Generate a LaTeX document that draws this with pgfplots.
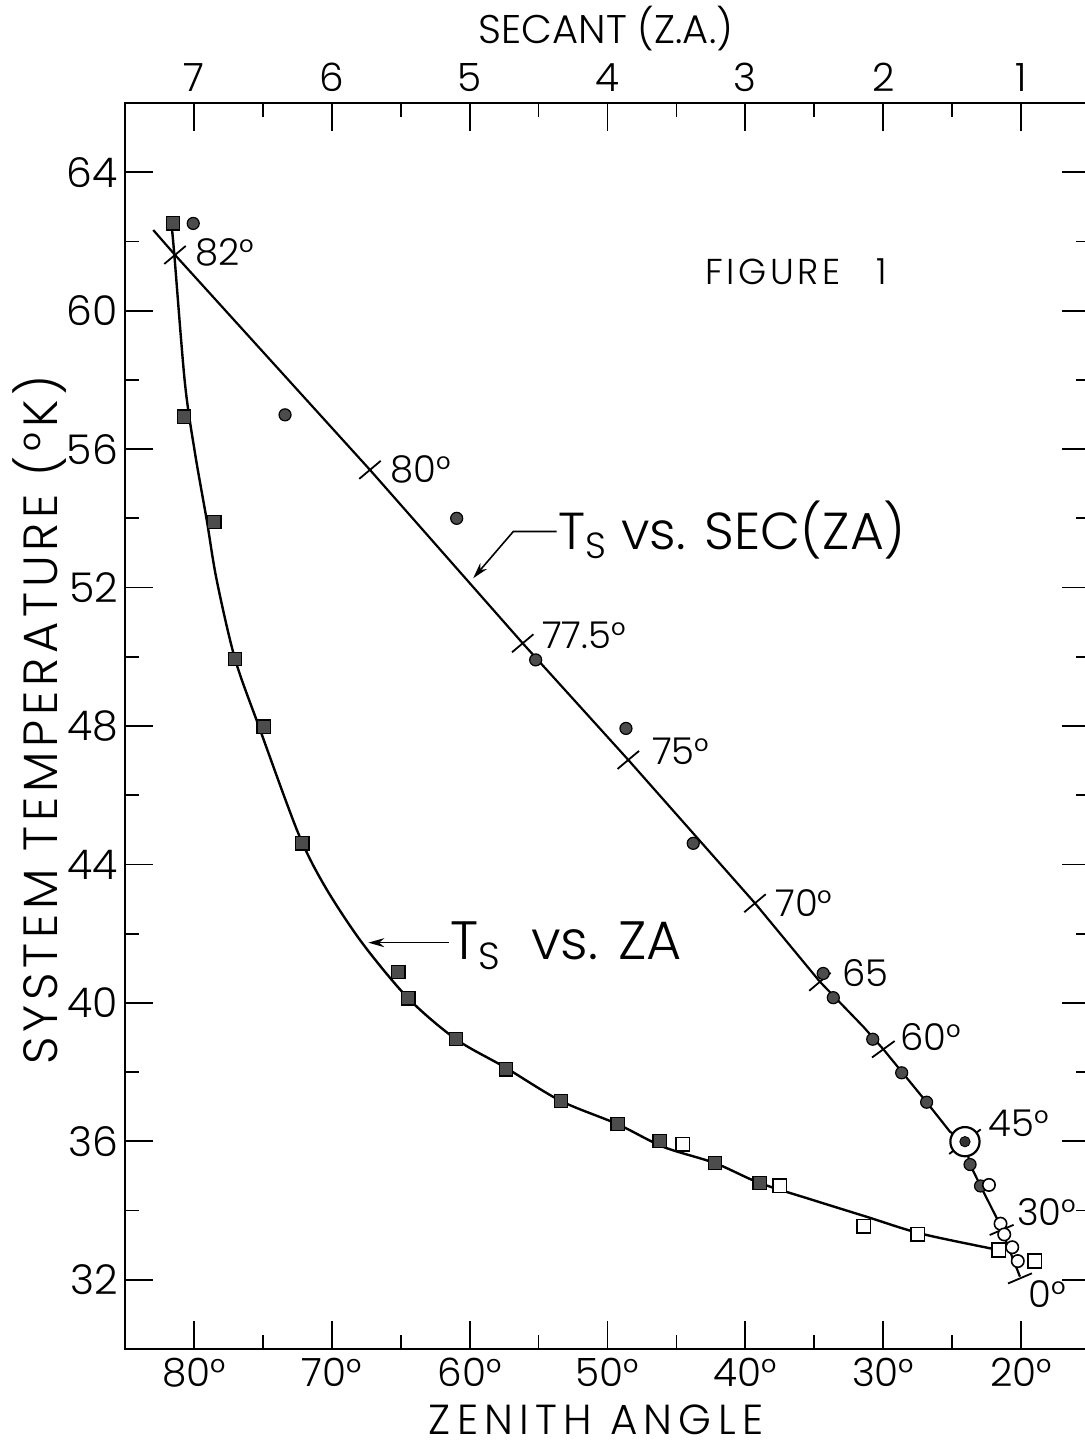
\documentclass[border=0pt]{standalone}
\usepackage{fontspec}
\setmainfont{Poppins}[UprightFont=* Light]
\newfontfamily\spaced{Poppins}[UprightFont=* Light, LetterSpace=10]
\newfontfamily\wspaced{Poppins}[UprightFont=* Light, LetterSpace=15]
\usepackage{pgfplots}
\usepackage{pgfplotstable}
\pgfplotsset{compat=1.18}
\usetikzlibrary{arrows.meta}

% Ts vs ZA: filled squares
\pgfplotstableread{
za ts
81.50 62.52
80.70 56.94
78.52 53.90
77.00 49.93
74.95 47.98
72.13 44.61
65.16 40.90
64.44 40.13
60.98 38.95
57.35 38.08
53.38 37.16
49.27 36.50
46.22 36.01
42.18 35.38
38.97 34.80
}\zafilled
% Ts vs ZA: open squares
\pgfplotstableread{
za ts
44.53 35.92
37.52 34.72
31.42 33.55
27.50 33.31
21.62 32.86
19.01 32.54
}\zaopen
% Ts vs ZA: drawn curve
\pgfplotstableread{
za ts
81.61 62.43
81.42 61.61
80.65 57.90
79.92 55.88
79.07 53.95
78.35 52.22
77.02 49.94
75.28 47.98
72.43 44.90
70.49 43.36
67.81 41.74
64.45 40.13
60.99 38.95
57.44 38.14
53.40 37.17
49.29 36.50
45.95 35.84
42.20 35.37
38.99 34.80
35.07 34.30
31.20 33.82
27.33 33.34
22.26 32.91
21.67 32.86
}\zacurve
% Ts vs SEC: filled circles
\pgfplotstableread{
sec ts
7.005 62.52
6.339 56.99
5.094 54.00
4.521 49.91
3.866 47.93
3.378 44.61
2.435 40.85
2.362 40.15
2.076 38.95
1.866 37.98
1.685 37.13
1.370 35.33
1.294 34.71
}\secfilled
% Ts vs SEC: open circles
\pgfplotstableread{
sec ts
1.233 34.74
1.149 33.62
1.122 33.31
1.064 32.94
1.024 32.54
}\secopen
% Ts vs SEC: drawn line
\pgfplotstableread{
sec ts
7.295 62.33
7.137 61.61
5.723 55.40
4.615 50.39
3.849 47.02
2.930 42.88
2.459 40.61
2.144 39.31
1.999 38.66
1.685 37.13
1.516 36.28
1.407 35.99
1.370 35.33
1.294 34.71
1.170 33.73
1.008 32.09
}\secline

\begin{document}
\begin{tikzpicture}
\useasboundingbox (-62.5pt,-49pt) rectangle (480pt,674.5pt);
% ---------- bottom / left axis: zenith angle ----------
\begin{axis}[
  at={(0pt,0pt)}, anchor=south west,
  scale only axis, width=482.5pt, height=623pt,
  xmin=15, xmax=85, x dir=reverse,
  ymin=30, ymax=66,
  xtick={20,30,40,50,60,70,80},
  xticklabels={20°,30°,40°,50°,60°,70°,80°},
  minor x tick num=1,
  xtick pos=left,
  ytick={32,36,40,44,48,52,56,60,64},
  yticklabels={32,36,40,44,48,52,56,60,64},
  minor y tick num=1,
  ytick pos=both, yticklabel pos=left,
  tick align=inside,
  major tick length=14pt, minor tick length=7pt,
  tick style={line width=0.9pt, black},
  axis line style={line width=1.1pt},
  ticklabel style={font=\fontsize{19.5}{19.5}\selectfont},
  yticklabel style={font=\fontsize{20.5}{20.5}\selectfont},
  xticklabel style={yshift=-1pt},
  clip=false,
]
\addplot[line width=1.2pt, smooth, tension=0.5] table[x=za,y=ts]{\zacurve};
\addplot[only marks, mark=square*, mark size=3.3pt,
  mark options={fill=black!70, draw=black, line width=0.6pt}] table[x=za,y=ts]{\zafilled};
\addplot[only marks, mark=square*, mark size=3.4pt,
  mark options={fill=white, draw=black, line width=0.8pt}] table[x=za,y=ts]{\zaopen};

% axis titles
\node[rotate=90, font=\spaced\fontsize{24}{24}\selectfont] at (axis cs:91.17,48.17) {SYSTEM TEMPERATURE (°K)};
\node[anchor=base, inner sep=0pt, font=\wspaced\fontsize{21}{21}\selectfont] at (axis cs:50.83,27.52) {ZENITH ANGLE};
\node[font=\fontsize{20}{20}\selectfont] at (axis cs:50.11,68.14) {SECANT (Z.A.)};
\node[anchor=west, inner sep=0pt, font=\spaced\fontsize{18}{18}\selectfont] at (axis cs:42.93,61.12) {FIGURE\hspace{18pt}1};

% curve captions with arrows
\node[anchor=base west, inner sep=0pt, font=\fontsize{26}{26}\selectfont] at (axis cs:53.59,53.09) {T\textsubscript{S} vs. SEC(ZA)};
\draw[line width=0.8pt, -{Stealth[length=8pt,width=4.5pt]}] (axis cs:53.69,53.62) -- (axis cs:56.83,53.62) -- (axis cs:59.74,52.27);
\node[anchor=base west, inner sep=0pt, font=\fontsize{27}{27}\selectfont] at (axis cs:61.40,41.24) {T\textsubscript{S}\hspace{15pt}vs. ZA};
\draw[line width=0.8pt, -{Stealth[length=8pt,width=4.5pt]}] (axis cs:61.50,41.74) -- (axis cs:67.35,41.74);
\end{axis}

% ---------- top axis: secant ----------
\begin{axis}[
  at={(0pt,0pt)}, anchor=south west,
  scale only axis, width=482.5pt, height=623pt,
  xmin=0.5, xmax=7.5, x dir=reverse,
  ymin=30, ymax=66,
  axis line style={draw=none},
  xtick={1,2,3,4,5,6,7},
  xticklabels={1,2,3,4,5,6,7},
  minor x tick num=1,
  xtick pos=right, xticklabel pos=right,
  ytick=\empty,
  tick align=inside,
  major tick length=14pt, minor tick length=7pt,
  tick style={line width=0.9pt, black},
  ticklabel style={font=\fontsize{19.5}{19.5}\selectfont},
  xticklabel style={yshift=2pt},
  clip=false,
]
\addplot[line width=1.1pt] table[x=sec,y=ts]{\secline};
% angle crosses
\addplot[only marks, mark=|, mark size=7pt, mark options={rotate=-50, line width=0.9pt}] coordinates {
(7.137,61.61) (5.723,55.40) (4.615,50.39) (3.849,47.02) (2.930,42.88) (2.459,40.61)};
\addplot[only marks, mark=|, mark size=7pt, mark options={rotate=-54, line width=0.9pt}] coordinates {(1.999,38.66)};
\addplot[only marks, mark=|, mark size=10pt, mark options={rotate=-52, line width=0.9pt}] coordinates {(1.407,35.99)};
\addplot[only marks, mark=|, mark size=6.5pt, mark options={rotate=-67, line width=0.9pt}] coordinates {(1.141,33.44) (1.008,32.04)};
% points
\addplot[only marks, mark=*, mark size=3pt,
  mark options={fill=black!70, draw=black, line width=0.6pt}] table[x=sec,y=ts]{\secfilled};
\addplot[only marks, mark=*, mark size=3.1pt,
  mark options={fill=white, draw=black, line width=0.8pt}] table[x=sec,y=ts]{\secopen};
% 45 deg ring with dot
\addplot[only marks, mark=*, mark size=7.3pt,
  mark options={fill=white, draw=black, line width=1.1pt}] coordinates {(1.407,35.99)};
\addplot[only marks, mark=*, mark size=2.6pt,
  mark options={fill=black!80, draw=black}] coordinates {(1.407,35.99)};
% angle labels
\begin{scope}[every node/.style={anchor=west, inner sep=0pt, font=\fontsize{18.5}{18.5}\selectfont}]
\node at (axis cs:6.992,61.67) {82°};
\node at (axis cs:5.578,55.40) {80°};
\node at (axis cs:4.477,50.63) {77.5°};
\node at (axis cs:3.680,47.26) {75°};
\node at (axis cs:2.785,42.88) {70°};
\node at (axis cs:2.301,40.85) {65};
\node at (axis cs:1.878,39.02) {60°};
\node at (axis cs:1.238,36.52) {45°};
\node at (axis cs:1.032,33.97) {30°};
\node at (axis cs:0.950,31.59) {0°};
\end{scope}
\end{axis}
\end{tikzpicture}
\end{document}
